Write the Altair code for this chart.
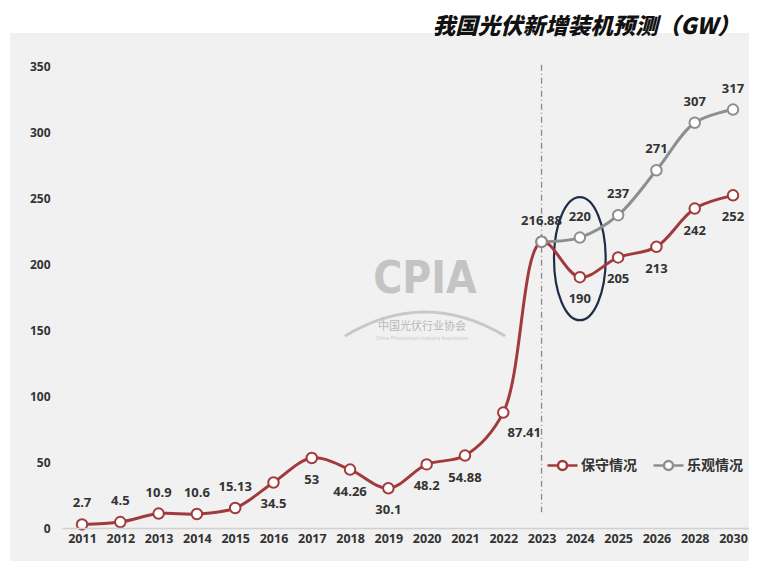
import altair as alt
import pandas as pd

years = ["2011", "2012", "2013", "2014", "2015", "2016", "2017", "2018", "2019",
         "2020", "2021", "2022", "2023", "2024", "2025", "2026", "2028", "2030"]
conservative = [2.7, 4.5, 10.9, 10.6, 15.13, 34.5, 53, 44.26, 30.1, 48.2, 54.88,
                87.41, 216.88, 190, 205, 213, 242, 252]
cons_label_side = ["above"] * 5 + ["below"] * 6 + ["below-right", "above"] + ["below"] * 5

opt_years = ["2023", "2024", "2025", "2026", "2028", "2030"]
optimistic = [216.88, 220, 237, 271, 307, 317]
opt_label_side = ["none"] + ["above"] * 5

series_names = ["保守情况", "乐观情况"]
series_colors = ["#a23a3b", "#8e8e8e"]
y_ticks = [0, 50, 100, 150, 200, 250, 300, 350]
title_text = "我国光伏新增装机预测（GW）"

FONT = "Open Sans, Noto Sans CJK SC, sans-serif"
TXT = "#333333"
PANEL = "#f1f1f1"


def fmt(v):
    return f"{v:g}"


rows = []
for y, v, s in zip(years, conservative, cons_label_side):
    rows.append({"year": y, "value": v, "series": series_names[0], "label": fmt(v), "side": s})
for y, v, s in zip(opt_years, optimistic, opt_label_side):
    rows.append({"year": y, "value": v, "series": series_names[1], "label": fmt(v), "side": s})
df = pd.DataFrame(rows)

W, H = 687, 462
PAD_L, PAD_T, PAD_B = 54, 58, 33
xscale = alt.Scale(type="point", domain=years, padding=0.47, align=0.556)
yscale = alt.Scale(domain=[0, 350], nice=False)

xenc = alt.X("year:O", sort=years, scale=xscale,
             axis=alt.Axis(title=None, labelAngle=0, labelAlign="center", ticks=False,
                           domain=True, domainColor="#d0d0d0", domainWidth=1.5,
                           labelPadding=10, labelFontSize=12.5, labelFontWeight="bold",
                           labelColor=TXT, labelFont=FONT, grid=False, zindex=1))
yenc = alt.Y("value:Q", scale=yscale,
             axis=alt.Axis(title=None, values=y_ticks, ticks=False, domain=False, grid=False,
                           labelPadding=12, labelFontSize=12, labelFontWeight="bold",
                           labelColor=TXT, labelFont=FONT, zindex=1))
cscale = alt.Scale(domain=series_names, range=series_colors)

legend_symbol = ("M-1,0L-0.3,0M0.3,0L1,0M0.3,0A0.3,0.3,0,1,1,-0.3,0"
                 "A0.3,0.3,0,1,1,0.3,0Z")

base = alt.Chart(df)

# light grey panel behind the chart; the strip with the title stays white
panel = alt.Chart(pd.DataFrame({"t": ["panel"]})).mark_rect(color=PANEL).encode(
    x=alt.value(-52), x2=alt.value(W), y=alt.value(-33), y2=alt.value(H + PAD_B))

title = alt.Chart(pd.DataFrame({"t": [title_text]})).mark_text(
    align="right", baseline="middle", fontSize=22.5, fontWeight=900, fontStyle="italic",
    font="Noto Sans CJK SC, sans-serif", color="#111111").encode(
    x=alt.value(W - 9), y=alt.value(-39), text="t:N")

lines = base.mark_line(strokeWidth=3, interpolate="catmull-rom").encode(
    x=xenc, y=yenc,
    color=alt.Color("series:N", scale=cscale,
                    legend=alt.Legend(title=None, orient="none", legendX=484, legendY=383,
                                      direction="horizontal", symbolType=legend_symbol,
                                      symbolSize=900, symbolStrokeWidth=2.5,
                                      symbolFillColor="white", labelFontSize=14,
                                      labelFont=FONT, labelColor=TXT,
                                      labelFontWeight="bold", columnPadding=11,
                                      labelOffset=2, padding=0)),
    detail="series:N",
)

points = base.mark_point(shape="circle", filled=True, fill="white", size=110,
                         strokeWidth=2, opacity=1).encode(
    x=xenc, y=yenc,
    stroke=alt.Stroke("series:N", scale=cscale, legend=None),
)

text_style = dict(fontSize=13, fontWeight="bold", color=TXT, font=FONT)
lab_above = base.mark_text(dy=-21, **text_style).encode(
    x=xenc, y=yenc, text="label:N").transform_filter(alt.datum.side == "above")
lab_below = base.mark_text(dy=22, **text_style).encode(
    x=xenc, y=yenc, text="label:N").transform_filter(alt.datum.side == "below")
lab_below_right = base.mark_text(dy=20, dx=21, **text_style).encode(
    x=xenc, y=yenc, text="label:N").transform_filter(alt.datum.side == "below-right")

divider = alt.Chart(pd.DataFrame({"year": ["2023"]})).mark_rule(
    strokeDash=[6, 3, 1, 3], color="#8a8a8a", strokeWidth=1.3).encode(
    x=alt.X("year:O", sort=years, scale=xscale),
    y=alt.datum(351), y2=alt.datum(12))

ellipse_path = "M0.42,0A0.42,1,0,1,1,-0.42,0A0.42,1,0,1,1,0.42,0Z"
ellipse = alt.Chart(pd.DataFrame({"year": ["2024"], "value": [204]})).mark_point(
    shape=ellipse_path, size=15129, filled=False, stroke="#1f2d48", strokeWidth=2.2,
    opacity=1).encode(
    x=alt.X("year:O", sort=years, scale=xscale),
    y=alt.Y("value:Q", scale=yscale))

wm1 = alt.Chart(pd.DataFrame({"t": ["CPIA"]})).mark_text(
    fontSize=44, fontWeight="bold", color="#c4c4c4",
    font="DejaVu Sans Condensed, Liberation Sans Narrow, sans-serif",
    baseline="middle").encode(x=alt.value(363), y=alt.value(214), text="t:N")
wm2 = alt.Chart(pd.DataFrame({"t": ["中国光伏行业协会"]})).mark_text(
    fontSize=11, color="#b8b8b8", font=FONT, baseline="middle").encode(
    x=alt.value(360), y=alt.value(261), text="t:N")
wm3 = alt.Chart(pd.DataFrame({"t": ["China Photovoltaic Industry Association"]})).mark_text(
    fontSize=5, color="#c8c8c8", font=FONT, baseline="middle").encode(
    x=alt.value(360), y=alt.value(272), text="t:N")
arc_path = "M-1,0.25Q0,-0.35,1,0.25"
wm_arc = alt.Chart(pd.DataFrame({"t": ["arc"]})).mark_point(
    shape=arc_path, size=25600, filled=False, stroke="#c8c8c8", strokeWidth=3,
    opacity=1).encode(x=alt.value(363), y=alt.value(250))

chart = alt.layer(
    panel, title, wm_arc, wm1, wm2, wm3, divider, ellipse, lines, points,
    lab_above, lab_below, lab_below_right
).properties(
    width=W, height=H,
    background="white",
    autosize=alt.AutoSizeParams(type="none"),
    padding={"left": PAD_L, "top": PAD_T, "right": 0, "bottom": PAD_B},
).configure_view(stroke=None)

chart.save("out.html", embed_options={"renderer": "svg", "actions": False})
